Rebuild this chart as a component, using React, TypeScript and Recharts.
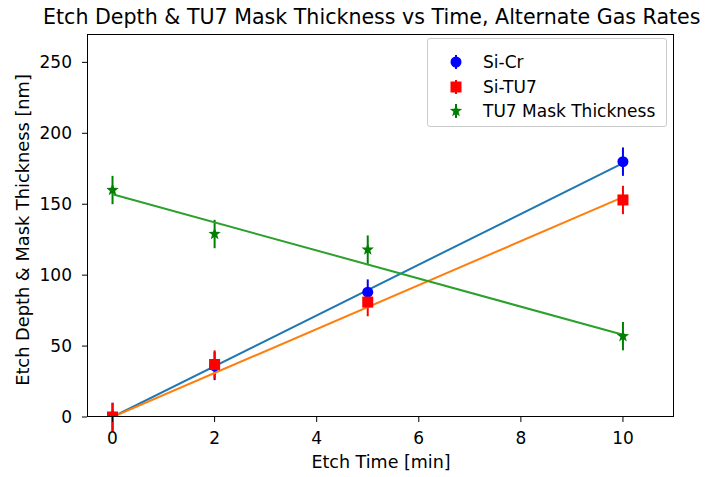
import React from "react";
import { ComposedChart, Scatter, XAxis, YAxis, ErrorBar } from "recharts";

// measured etch times and values [min, nm]
const times = [0, 2, 5, 10];
const siCr = [0, 36, 88, 180];
const siTu7 = [0, 37, 81, 153];
const maskThickness = [160, 129, 118, 57];
const siCrErr = [10, 10, 9, 10];
const siTu7Err = [10, 10, 10, 10];
const maskErr = [10, 10, 10, 10];

// linear fit endpoints
const fitTimes = [0, 10];
const siCrFit = [0, 179];
const siTu7Fit = [0, 155];
const maskFit = [157, 58];

const xTicks = [0, 2, 4, 6, 8, 10];
const yTicks = [0, 50, 100, 150, 200, 250];

const FONT = "'DejaVu Sans', sans-serif";
const W = 721;
const H = 477;
const PLOT = { left: 87, top: 34, right: 674, bottom: 417 };

const toPoints = (xs: number[], ys: number[], errs?: number[]) =>
  xs.map((x, i) => ({ x, y: ys[i], err: errs ? errs[i] : 0 }));

const Dot = ({ cx, cy, fill }: any) => <circle cx={cx} cy={cy} r={5.5} fill={fill} />;
const Square = ({ cx, cy, fill }: any) => (
  <rect x={cx - 5.5} y={cy - 5.5} width={11} height={11} fill={fill} />
);

function starPath(cx: number, cy: number, r: number) {
  const pts: string[] = [];
  for (let i = 0; i < 10; i++) {
    const rad = i % 2 === 0 ? r : r * 0.42;
    const a = -Math.PI / 2 + (i * Math.PI) / 5;
    pts.push(`${cx + rad * Math.cos(a)},${cy + rad * Math.sin(a)}`);
  }
  return `M${pts.join("L")}Z`;
}
const Star = ({ cx, cy, fill }: any) => <path d={starPath(cx, cy, 6.5)} fill={fill} />;
const NoShape = () => <g />;

const legendItems = [
  { name: "Si-Cr", color: "#0000ff", kind: "dot" },
  { name: "Si-TU7", color: "#ff0000", kind: "square" },
  { name: "TU7 Mask Thickness", color: "#008000", kind: "star" },
];

function LegendBox() {
  return (
    <div
      style={{
        position: "absolute",
        left: 427,
        top: 38,
        width: 240,
        height: 89,
        border: "1px solid #cccccc",
        borderRadius: 3,
        background: "rgba(255,255,255,0.8)",
        boxSizing: "border-box",
        fontFamily: FONT,
        fontSize: 17,
      }}
    >
      {legendItems.map((item, i) => (
        <div
          key={item.name}
          style={{ position: "absolute", left: 0, top: 13 + i * 24.5, height: 20, display: "flex", alignItems: "center" }}
        >
          <svg width={50} height={20}>
            <line x1={28} x2={28} y1={3} y2={17} stroke={item.color} strokeWidth={2} />
            {item.kind === "dot" && <Dot cx={28} cy={10} fill={item.color} />}
            {item.kind === "square" && <Square cx={28} cy={10} fill={item.color} />}
            {item.kind === "star" && <Star cx={28} cy={10} fill={item.color} />}
          </svg>
          <span style={{ marginLeft: 5, color: "#000", whiteSpace: "nowrap" }}>{item.name}</span>
        </div>
      ))}
    </div>
  );
}

export default function App() {
  const tickStyle = { fontFamily: FONT, fontSize: 17, fill: "#000" };
  return (
    <div style={{ position: "absolute", left: 0, top: 0, width: W, height: H, background: "#fff", overflow: "hidden" }}>
      <ComposedChart
        width={W}
        height={H}
        margin={{ top: PLOT.top, right: W - PLOT.right, left: PLOT.left - 70, bottom: H - PLOT.bottom - 30 }}
      >
        <XAxis
          type="number"
          dataKey="x"
          domain={[-0.5, 11]}
          ticks={xTicks}
          allowDataOverflow
          height={30}
          axisLine={false}
          tickLine={{ stroke: "#000" }}
          tickSize={5}
          tickMargin={10}
          tick={tickStyle}
        />
        <YAxis
          type="number"
          dataKey="y"
          domain={[0, 270]}
          ticks={yTicks}
          allowDataOverflow
          width={70}
          axisLine={false}
          tickLine={{ stroke: "#000" }}
          tickSize={5}
          tickMargin={10}
          tick={tickStyle}
        />
        <Scatter
          data={toPoints(fitTimes, siCrFit)}
          line={{ stroke: "#1f77b4", strokeWidth: 2 }}
          shape={NoShape}
          isAnimationActive={false}
        />
        <Scatter
          data={toPoints(fitTimes, siTu7Fit)}
          line={{ stroke: "#ff7f0e", strokeWidth: 2 }}
          shape={NoShape}
          isAnimationActive={false}
        />
        <Scatter
          data={toPoints(fitTimes, maskFit)}
          line={{ stroke: "#2ca02c", strokeWidth: 2 }}
          shape={NoShape}
          isAnimationActive={false}
        />
        <Scatter data={toPoints(times, siCr, siCrErr)} shape={(p: any) => <Dot {...p} fill="#0000ff" />} isAnimationActive={false}>
          <ErrorBar dataKey="err" direction="y" width={0} stroke="#0000ff" strokeWidth={2} />
        </Scatter>
        <Scatter data={toPoints(times, siTu7, siTu7Err)} shape={(p: any) => <Square {...p} fill="#ff0000" />} isAnimationActive={false}>
          <ErrorBar dataKey="err" direction="y" width={0} stroke="#ff0000" strokeWidth={2} />
        </Scatter>
        <Scatter data={toPoints(times, maskThickness, maskErr)} shape={(p: any) => <Star {...p} fill="#008000" />} isAnimationActive={false}>
          <ErrorBar dataKey="err" direction="y" width={0} stroke="#008000" strokeWidth={2} />
        </Scatter>
      </ComposedChart>

      {/* axes frame */}
      <div
        style={{
          position: "absolute",
          left: PLOT.left,
          top: PLOT.top,
          width: PLOT.right - PLOT.left,
          height: PLOT.bottom - PLOT.top,
          border: "1px solid #000",
          boxSizing: "border-box",
          pointerEvents: "none",
        }}
      />

      <div
        style={{
          position: "absolute",
          left: 43,
          top: 5,
          lineHeight: "normal",
          fontFamily: FONT,
          fontSize: 20.6,
          color: "#000",
          whiteSpace: "nowrap",
        }}
      >
        Etch Depth &amp; TU7 Mask Thickness vs Time, Alternate Gas Rates
      </div>

      <div
        style={{
          position: "absolute",
          left: 281,
          width: 200,
          top: 452,
          textAlign: "center",
          fontFamily: FONT,
          fontSize: 17.5,
          color: "#000",
          whiteSpace: "nowrap",
        }}
      >
        Etch Time [min]
      </div>

      <div
        style={{
          position: "absolute",
          left: 22,
          top: 230,
          transform: "translate(-50%, -50%) rotate(-90deg)",
          fontFamily: FONT,
          fontSize: 17.8,
          color: "#000",
          whiteSpace: "nowrap",
        }}
      >
        Etch Depth &amp; Mask Thickness [nm]
      </div>

      <LegendBox />
    </div>
  );
}
